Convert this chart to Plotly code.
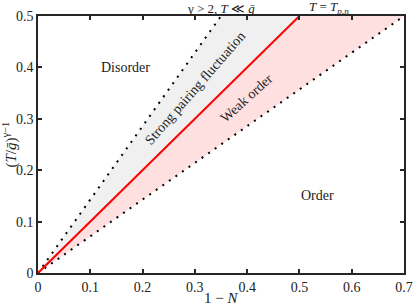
import plotly.graph_objects as go

# Data
x_left = [0, 0.35]      # left dotted boundary
x_mid = [0, 0.5]        # T = T_{p,n}
x_right = [0, 0.7]      # right dotted boundary
y_line = [0, 0.5]

x_ticks = [0, 0.1, 0.2, 0.3, 0.4, 0.5, 0.6, 0.7]
x_tick_labels = ["0", "0.1", "0.2", "0.3", "0.4", "0.5", "0.6", "0.7"]
y_ticks = [0, 0.1, 0.2, 0.3, 0.4, 0.5]
y_tick_labels = ["0", "0.1", "0.2", "0.3", "0.4", "0.5"]

FONT = "Liberation Serif"
TXT = "#222222"
fig = go.Figure()

# gray region
fig.add_trace(go.Scatter(
    x=[x_left[0], x_left[1], x_mid[1], x_mid[0]],
    y=[y_line[0], y_line[1], y_line[1], y_line[0]],
    fill="toself", fillcolor="#f0f0f0", line=dict(width=0), mode="lines",
    hoverinfo="skip", showlegend=False))
# pink region
fig.add_trace(go.Scatter(
    x=[x_mid[0], x_mid[1], x_right[1], x_right[0]],
    y=[y_line[0], y_line[1], y_line[1], y_line[0]],
    fill="toself", fillcolor="#ffe0e0", line=dict(width=0), mode="lines",
    hoverinfo="skip", showlegend=False))

for xs in (x_left, x_right):
    fig.add_trace(go.Scatter(x=xs, y=y_line, mode="lines",
                             line=dict(color="black", width=2, dash="2px,6px"),
                             showlegend=False))
fig.add_trace(go.Scatter(x=x_mid, y=y_line, mode="lines",
                         line=dict(color="#ff0000", width=2), showlegend=False))

ann_font = dict(family=FONT, size=14, color=TXT)
big_font = dict(family=FONT, size=15, color=TXT)
top_font = dict(family=FONT, size=13, color=TXT)
annotations = [
    dict(x=0.168, y=0.399, text="Disorder", showarrow=False, font=ann_font),
    dict(x=0.534, y=0.150, text="Order", showarrow=False, font=ann_font),
    dict(x=0.302, y=0.360, text="Strong pairing fluctuation", showarrow=False,
         textangle=-49, font=ann_font),
    dict(x=0.398, y=0.340, text="Weak order", showarrow=False,
         textangle=-42, font=ann_font),
    dict(x=0.35, y=0.5, yshift=8, yanchor="middle", text="γ > 2, <i>T</i> ≪ <i>ḡ</i>",
         showarrow=False, font=top_font),
    dict(x=0.557, y=0.5, yshift=9, yanchor="middle",
         text="<i>T</i> = <i>T</i><sub><i>p,n</i></sub>",
         showarrow=False, font=top_font),
    # axis titles
    dict(x=0.5, y=0, xref="paper", yref="paper", yshift=-25, yanchor="middle",
         text="1 − <i>N</i>", showarrow=False, font=big_font),
    dict(x=0, y=0.5, xref="paper", yref="paper", xshift=-28, xanchor="center",
         text="(<i>T</i>/<i>ḡ</i>)<sup>γ−1</sup>", textangle=-90,
         showarrow=False, font=big_font),
]

axis_common = dict(showgrid=False, zeroline=False, showline=True, linecolor="#262626",
                   linewidth=1.5, mirror="ticks", ticks="inside", ticklen=4,
                   tickwidth=1.5, tickcolor="#262626", automargin=False,
                   tickfont=dict(family=FONT, size=14, color=TXT))

fig.update_layout(
    width=415, height=306,
    margin=dict(l=38, r=11, t=16, b=33),
    plot_bgcolor="white", paper_bgcolor="white",
    annotations=annotations,
    xaxis=dict(range=[0, 0.7], tickvals=x_ticks, ticktext=x_tick_labels, **axis_common),
    yaxis=dict(range=[0, 0.5], tickvals=y_ticks, ticktext=y_tick_labels, **axis_common),
)

fig.write_html("out.html", config={"displayModeBar": False},
               post_script="document.body.style.margin='0';document.body.style.overflow='hidden';")
